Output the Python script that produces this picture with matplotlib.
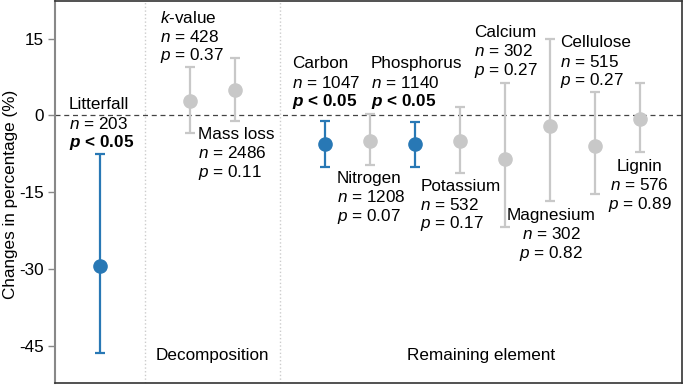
import numpy as np
import matplotlib
matplotlib.use('Agg')
import matplotlib.pyplot as plt

plt.rcParams['font.family'] = 'Liberation Sans'
plt.rcParams['mathtext.fontset'] = 'custom'
plt.rcParams['mathtext.rm'] = 'Liberation Sans'
plt.rcParams['mathtext.it'] = 'Liberation Sans:italic'
plt.rcParams['mathtext.bf'] = 'Liberation Sans:bold'
plt.rcParams['mathtext.bfit'] = 'Liberation Sans:bold:italic'
plt.rcParams['axes.unicode_minus'] = False

# ---------------------------------------------------------------------------
# Data
# ---------------------------------------------------------------------------
names = ['Litterfall', 'k-value', 'Mass loss', 'Carbon', 'Nitrogen', 'Phosphorus',
         'Potassium', 'Calcium', 'Magnesium', 'Cellulose', 'Lignin']
xpos = [0, 2, 3, 5, 6, 7, 8, 9, 10, 11, 12]
mean = [-29.4, 2.9, 4.9, -5.6, -4.9, -5.6, -4.9, -8.6, -2.0, -6.0, -0.6]
ci_lo = [-46.4, -3.5, -1.0, -10.1, -9.7, -10.1, -11.3, -21.8, -16.8, -15.4, -7.2]
ci_hi = [-7.6, 9.5, 11.3, -1.0, 0.2, -1.2, 1.6, 6.4, 15.0, 4.5, 6.4]
n_obs = [203, 428, 2486, 1047, 1208, 1140, 532, 302, 302, 515, 576]
p_txt = ['< 0.05', '= 0.37', '= 0.11', '< 0.05', '= 0.07', '< 0.05',
         '= 0.17', '= 0.27', '= 0.82', '= 0.27', '= 0.89']
signif = [True, False, False, True, False, True, False, False, False, False, False]

# label anchor (x, y of first line) and alignment
lab_x = [-0.69, 1.33, 2.18, 4.27, 5.27, 6.02, 7.13, 8.33, 10.04, 10.24, 12.0]
lab_y = [2.1, 19.1, -3.7, 10.1, -12.3, 10.1, -13.8, 16.2, -19.5, 14.2, -9.9]
lab_ha = ['left', 'left', 'left', 'left', 'left', 'left', 'left', 'left',
          'center', 'left', 'center']

groups = ['Decomposition', 'Remaining element']
group_x = [2.5, 8.48]
dividers = [1, 4]

BLUE = '#2878b5'
GREY = '#c8c8c8'
FS = 12.3

fig = plt.figure(figsize=(6.85, 3.85), dpi=100)
ax = fig.add_axes([0.080, 0.006, 0.916, 0.992])

for x, m, lo, hi, s in zip(xpos, mean, ci_lo, ci_hi, signif):
    c = BLUE if s else GREY
    ax.errorbar(x, m, yerr=[[m - lo], [hi - m]], fmt='o', color=c, ecolor=c,
                markersize=9.5, elinewidth=1.6, capsize=3.5, capthick=1.6, zorder=3)

ax.axhline(0, color='#444444', linestyle=(0, (4, 3)), linewidth=0.9, zorder=1)
for d in dividers:
    ax.axvline(d, color='#cccccc', linestyle=':', linewidth=1.0, zorder=0)

dy = 3.7
for i, name in enumerate(names):
    x, y, ha = lab_x[i], lab_y[i], lab_ha[i]
    title = r'$k$-value' if name == 'k-value' else name
    ax.text(x, y, title, fontsize=FS, ha=ha, va='center')
    ax.text(x, y - dy, r'$n$ = %d' % n_obs[i], fontsize=FS, ha=ha, va='center')
    if signif[i]:
        ax.text(x, y - 2 * dy, r'$\mathbfit{p}$ ' + p_txt[i], fontsize=FS,
                ha=ha, va='center', fontweight='bold')
    else:
        ax.text(x, y - 2 * dy, r'$p$ ' + p_txt[i], fontsize=FS, ha=ha, va='center')

for g, gx in zip(groups, group_x):
    ax.text(gx, -46.9, g, fontsize=FS, ha='center', va='center')

ax.set_xlim(-1, 12.95)
ax.set_ylim(-52.2, 22.4)
ax.set_xticks([])
ax.set_yticks([15, 0, -15, -30, -45])
ax.tick_params(axis='y', labelsize=FS, length=5, pad=3, color='#888888', width=1.0)
fig.text(0.0150, 0.496, 'Changes in percentage (%)', fontsize=FS,
         rotation=90, ha='center', va='center')

ax.spines['left'].set_color('#888888')
ax.spines['left'].set_linewidth(1.5)
for s in ['top', 'right', 'bottom']:
    ax.spines[s].set_color('#333333')
    ax.spines[s].set_linewidth(1.2)

fig.savefig('out.png', dpi=100)
